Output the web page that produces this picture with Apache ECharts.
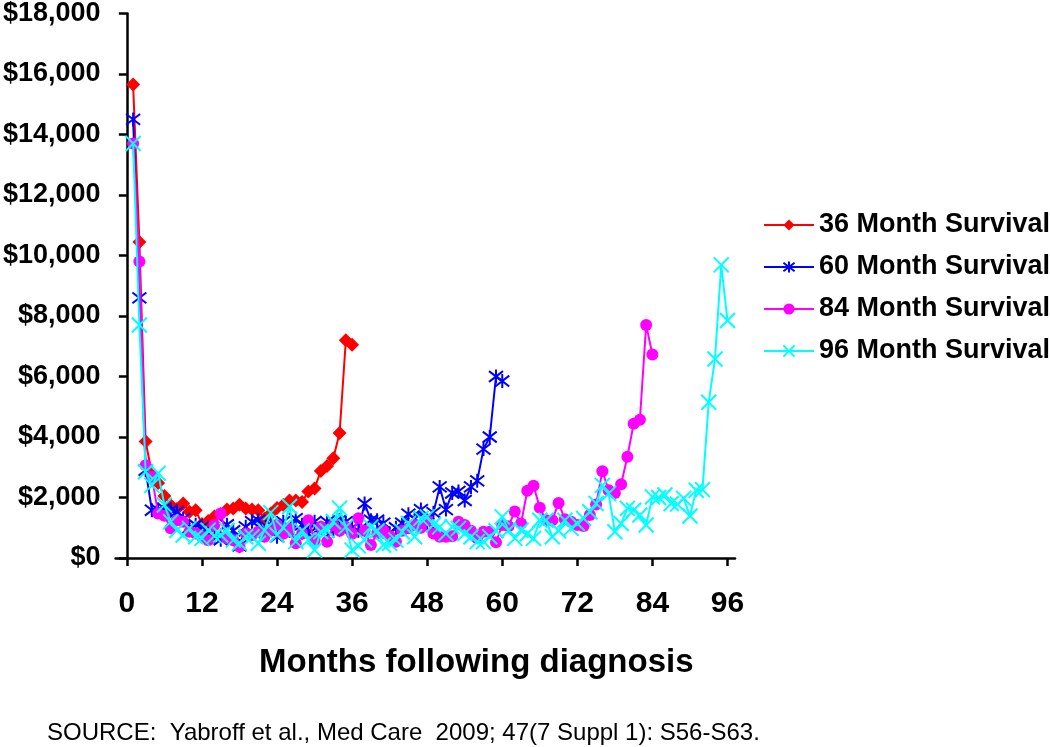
<!DOCTYPE html>
<html>
<head>
<meta charset="utf-8">
<script src="https://cdn.jsdelivr.net/npm/echarts@6/dist/echarts.min.js"></script>
<style>
html,body{margin:0;padding:0;background:#fff;}
#chart{width:1050px;height:747px;}
</style>
</head>
<body>
<div id="chart"></div>
<script>
var seriesNames = ['36 Month Survival', '60 Month Survival', '84 Month Survival', '96 Month Survival'];
var xTickLabels = [0, 12, 24, 36, 48, 60, 72, 84, 96];
var yTickValues = [0, 2000, 4000, 6000, 8000, 10000, 12000, 14000, 16000, 18000];

// monthly cost values, month 1..N
var survival36 = [15650, 10450, 3850, 2800, 2480, 2050, 1750, 1620, 1800, 1530,
  1580, 1120, 1220, 1370, 1450, 1600, 1640, 1760, 1640, 1600,
  1580, 1300, 1470, 1650, 1750, 1900, 1900, 1850, 2200, 2300,
  2880, 3040, 3300, 4130, 7200, 7050];

var survival60 = [14500, 8600, 2900, 1580, 1600, 1640, 1580, 1530, 1300, 1000,
  1100, 1030, 800, 700, 600, 1100, 900, 400, 1030, 1200,
  1250, 900, 1100, 700, 1200, 900, 1300, 1100, 800, 1200,
  1000, 1200, 900, 1250, 1200, 1000, 900, 1800, 1250, 1250,
  1150, 820, 1000, 1150, 1450, 1300, 1600, 1150, 1500, 2350,
  1600, 2150, 2200, 1900, 2350, 2550, 3600, 4000, 6000, 5850];

var survival84 = [13700, 9800, 3070, 2680, 1470, 1400, 980, 1250, 1200, 870,
  810, 700, 590, 1090, 1470, 650, 590, 370, 810, 760,
  870, 700, 900, 1090, 800, 980, 490, 800, 1250, 590,
  1030, 540, 1090, 900, 1030, 800, 1310, 900, 430, 810,
  920, 730, 540, 900, 980, 1090, 1000, 1250, 810, 700,
  700, 720, 1200, 1090, 900, 650, 870, 870, 520, 1090,
  1050, 1540, 1140, 2220, 2390, 1660, 1250, 1250, 1820, 1280,
  1200, 1090, 1060, 1420, 1770, 2870, 2240, 2150, 2440, 3350,
  4440, 4570, 7700, 6730];

var survival96 = [13700, 7700, 2850, 2400, 2800, 1750, 1200, 920, 760, 980,
  700, 650, 920, 730, 760, 920, 590, 490, 700, 700,
  490, 920, 1500, 760, 1000, 1700, 540, 900, 600, 260,
  870, 900, 1200, 1650, 1030, 260, 400, 600, 1030, 900,
  430, 490, 590, 870, 1140, 700, 1310, 1360, 1100, 1030,
  810, 1030, 980, 810, 700, 540, 540, 700, 900, 1360,
  920, 650, 920, 800, 650, 1250, 1250, 700, 900, 1250,
  980, 1140, 1310, 1530, 1800, 2400, 2130, 870, 1140, 1640,
  1580, 1420, 1090, 2020, 2000, 2080, 1800, 1780, 1970, 1390,
  2240, 2260, 5150, 6580, 9690, 7850];

function pairs(arr) {
  return arr.map(function (v, i) { return [i + 1, v]; });
}

var colors = ['#FF0000', '#0000FF', '#FF00FF', '#00FFFF'];
var symbols = [
  'diamond',
  'path://M0,0L10,10M10,0L0,10M5,-1.5L5,11.5',
  'circle',
  'path://M0,0L10,10M10,0L0,10'
];
var sizes = [14, 14, 12, 15];
var datasets = [survival36, survival60, survival84, survival96];

var series = datasets.map(function (d, k) {
  return {
    name: seriesNames[k],
    type: 'line',
    data: pairs(d),
    symbol: symbols[k],
    symbolSize: sizes[k],
    showAllSymbol: true,
    lineStyle: { color: colors[k], width: 2 },
    itemStyle: { color: colors[k], borderColor: colors[k], borderWidth: (k === 1 || k === 3) ? 2 : 0 },
    emphasis: { disabled: true },
    z: 2 + k
  };
});

var chart = echarts.init(document.getElementById('chart'), null, { renderer: 'canvas' });
chart.setOption({
  animation: false,
  backgroundColor: '#ffffff',
  grid: { left: 113, top: 12, width: 622, height: 546, containLabel: false },
  legend: {
    orient: 'vertical',
    left: 758,
    top: 206,
    itemWidth: 50,
    itemHeight: 14,
    itemGap: 14,
    data: seriesNames,
    textStyle: { fontFamily: 'Liberation Sans, Arial, sans-serif', fontWeight: 'bold', fontSize: 27, color: '#000', lineHeight: 28 }
  },
  xAxis: {
    type: 'value',
    min: -1.8,
    max: 97.2,
    splitLine: { show: false },
    axisLine: { show: true, onZero: false, lineStyle: { color: '#000', width: 2.5 } },
    axisTick: { show: true, inside: false, length: 8, customValues: xTickLabels, lineStyle: { color: '#000', width: 2.5 } },
    axisLabel: {
      customValues: xTickLabels,
      margin: 31,
      fontFamily: 'Liberation Sans, Arial, sans-serif',
      fontWeight: 'bold', fontSize: 30, color: '#000'
    },
    name: 'Months following diagnosis',
    nameLocation: 'middle',
    nameGap: 88,
    nameTextStyle: {
      fontFamily: 'Liberation Sans, Arial, sans-serif',
      fontWeight: 'bold', fontSize: 33, color: '#000', padding: [0, 0, 0, 102]
    }
  },
  yAxis: {
    type: 'value',
    min: 0,
    max: 18000,
    interval: 2000,
    splitLine: { show: false },
    axisLine: { show: true, lineStyle: { color: '#000', width: 2.5 } },
    axisTick: { show: true, inside: false, length: 8, lineStyle: { color: '#000', width: 2.5 } },
    axisLabel: {
      margin: 15,
      fontFamily: 'Liberation Sans, Arial, sans-serif',
      fontWeight: 'bold', fontSize: 27, color: '#000',
      formatter: function (v) { return '$' + v.toLocaleString('en-US'); }
    }
  },
  title: {
    text: 'SOURCE:  Yabroff et al., Med Care  2009; 47(7 Suppl 1): S56-S63.',
    left: 47,
    top: 721,
    padding: 0,
    textStyle: { fontFamily: 'Liberation Sans, Arial, sans-serif', fontWeight: 'normal', fontSize: 24, color: '#000' }
  },
  series: series
});
</script>
</body>
</html>
